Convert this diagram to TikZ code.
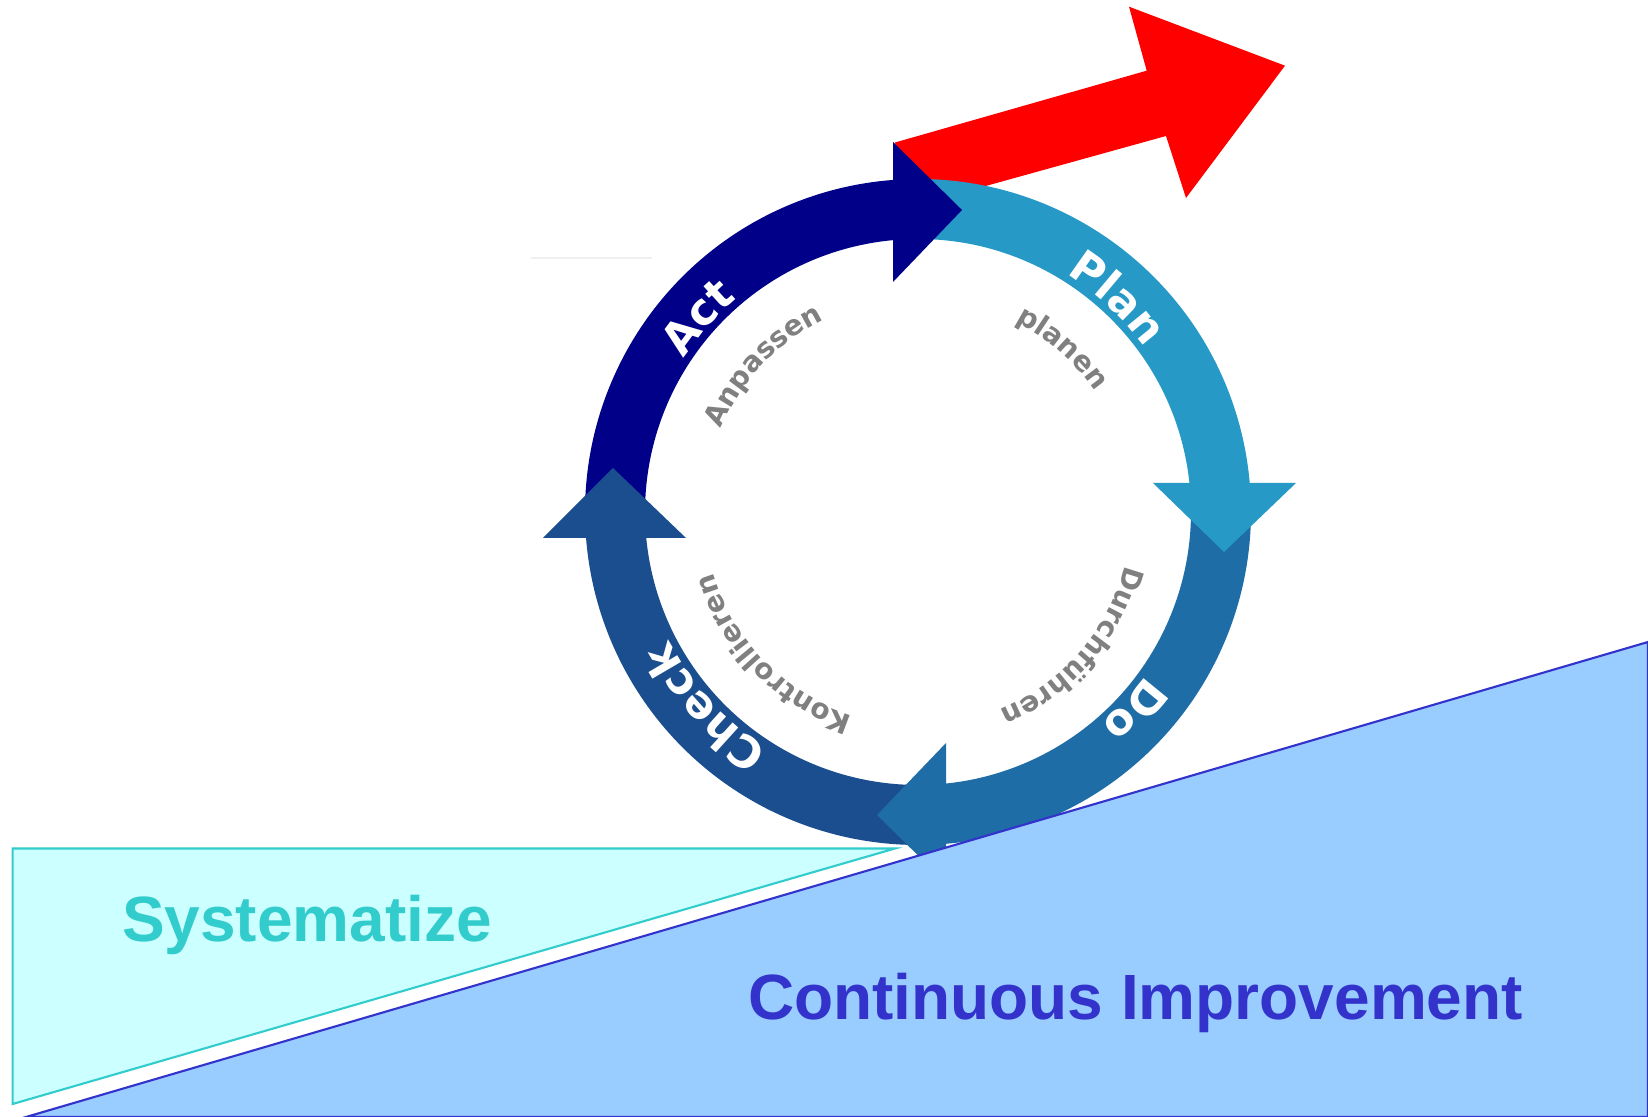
\documentclass[tikz,border=0pt]{standalone}
\usepackage{fontspec}
\usetikzlibrary{decorations.text}

\newfontfamily\wedgefont{Liberation Sans}
\newfontfamily\pdcafont{DejaVu Sans}

\definecolor{actblue}{RGB}{0,0,136}
\definecolor{planblue}{RGB}{38,153,198}
\definecolor{doblue}{RGB}{30,109,166}
\definecolor{checkblue}{RGB}{26,78,143}
\definecolor{systfill}{RGB}{204,255,255}
\definecolor{systline}{RGB}{51,204,204}
\definecolor{cifill}{RGB}{153,204,255}
\definecolor{ciline}{RGB}{51,51,204}

\newcommand\ringwhite{\pdcafont\bfseries\fontsize{12.5}{12.5}\selectfont\color{white}}
\newcommand\ringgray{\pdcafont\bfseries\fontsize{8}{8}\selectfont\color{gray}}

\tikzset{
    wedgetext/.style={font=\wedgefont\bfseries\fontsize{18.2}{22}\selectfont, anchor=base, inner sep=0pt},
    ringtext/.style={decorate, decoration={text along path, text align=center}},
}

\begin{document}
\begin{tikzpicture}

    \fill[white] (0,0) rectangle (16.48,11.17);
    \useasboundingbox (0,0) rectangle (16.48,11.17);

    % Define points
    \coordinate (C) at (9.18,6.05); % Center of the cycle

    % Left wedge
    \filldraw[fill=systfill, draw=systline, line width=0.6pt] (0.126,2.685) -- (8.95,2.685) -- (0.126,0.13) -- cycle;
    \node[wedgetext, text=systline] (syst) at (3.07,1.75) {Systematize};

    % Red arrow going up
    \fill[red] (8.95,9.745) -- (11.467,10.463) -- (11.29,11.103) -- (12.85,10.513)
        -- (11.86,9.19) -- (11.66,9.81) -- (9.10,9.10) -- cycle;

    % faint line left of the cycle
    \draw[gray!12, line width=0.5pt] (5.31,8.59) -- (6.52,8.59);

    \begin{scope}[shift={(C)}]
        % Ring pieces
        \foreach \a/\b/\col in {184.4/94.2/actblue, 94.2/4.9/planblue, 4.9/-85.3/doblue, -85.3/-175.6/checkblue}
            \fill[\col] (\a:3.33) arc[start angle=\a, end angle=\b, radius=3.33]
                -- (\b:2.73) arc[start angle=\b, end angle=\a, radius=2.73] -- cycle;

        % Arrow heads
        \fill[actblue] (-0.25,3.70) -- (0.44,3.02) -- (-0.25,2.30) -- cycle; % Act
        \fill[planblue] (3.78,0.29) -- (3.06,-0.40) -- (2.35,0.29) -- cycle; % Plan
        \fill[doblue] (0.28,-3.71) -- (-0.41,-3.03) -- (0.28,-2.31) -- cycle; % Do
        \fill[checkblue] (-3.75,-0.26) -- (-3.05,0.44) -- (-2.32,-0.26) -- cycle; % Check

        % Labels on the ring
        \path[ringtext, decoration={text={|\ringwhite|Plan}}] (87:2.8) arc[start angle=87, end angle=7, radius=2.8];
        \path[ringtext, decoration={text={|\ringwhite|Act}}] (178.5:2.8) arc[start angle=178.5, end angle=98.5, radius=2.8];
        \path[ringtext, decoration={text={|\ringwhite|Do}}] (-2.4:2.8) arc[start angle=-2.4, end angle=-82.4, radius=2.8];
        \path[ringtext, decoration={text={|\ringwhite|Check}}] (-97.5:2.8) arc[start angle=-97.5, end angle=-177.5, radius=2.8];

        % Labels inside the ring
        \path[ringtext, decoration={text={|\ringgray|planen}}] (93.6:2.14) arc[start angle=93.6, end angle=3.6, radius=2.14];
        \path[ringtext, decoration={text={|\ringgray|Anpassen}}] (181.6:2.14) arc[start angle=181.6, end angle=91.6, radius=2.14];
        \path[ringtext, decoration={text={|\ringgray|Durchführen}}] (4:2.14) arc[start angle=4, end angle=-86, radius=2.14];
        \path[ringtext, decoration={text={|\ringgray|Kontrollieren}}] (-90.6:2.14) arc[start angle=-90.6, end angle=-180.6, radius=2.14];
    \end{scope}

    % Right wedge, lying over the bottom of the cycle
    \filldraw[fill=cifill, draw=ciline, line width=0.6pt] (0.26,0) -- (16.48,4.75) -- (16.48,0) -- cycle;
    \node[wedgetext, text=ciline] (cimp) at (11.355,0.97) {Continuous Improvement};

\end{tikzpicture}
\end{document}
